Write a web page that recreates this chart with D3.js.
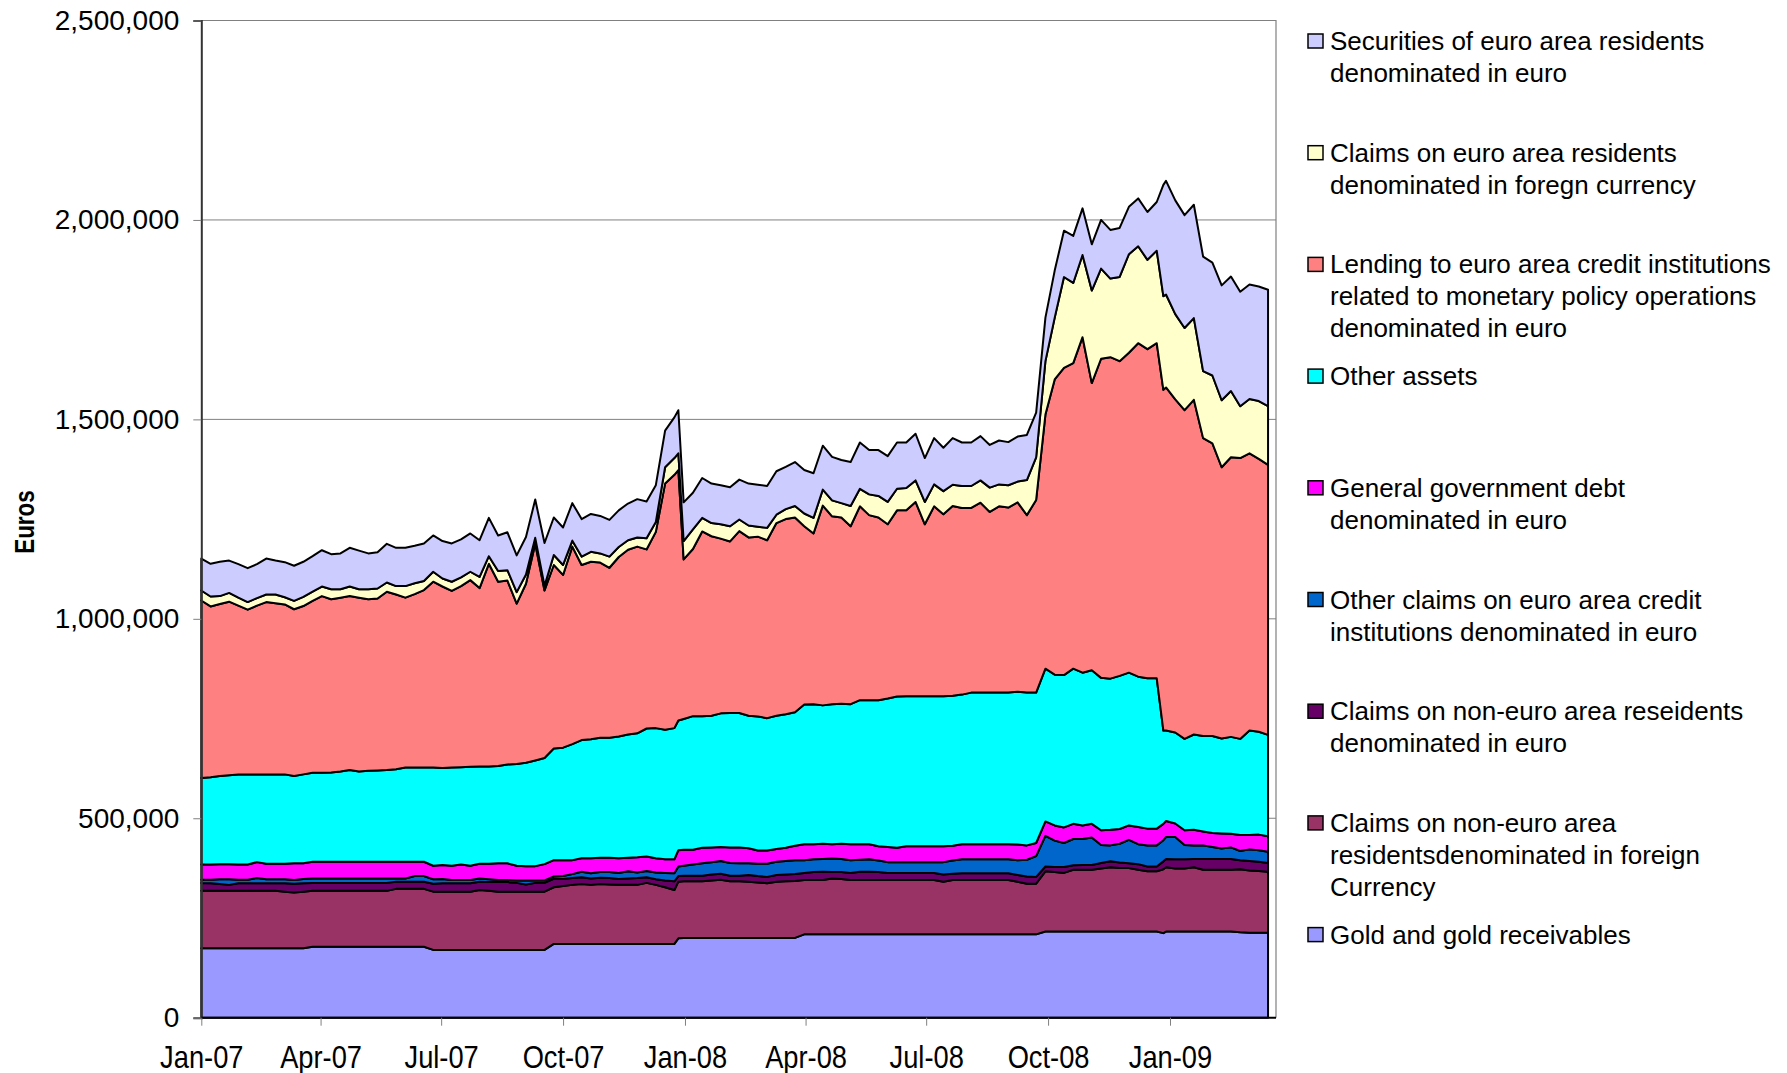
<!DOCTYPE html>
<html>
<head>
<meta charset="utf-8">
<script src="https://cdn.jsdelivr.net/npm/d3@7"></script>
<style>
  html, body { margin: 0; padding: 0; background: #fff; }
  svg { display: block; font-family: "Liberation Sans", Arial, sans-serif; }
</style>
</head>
<body>
<svg id="chart" width="1787" height="1073"></svg>
<script>
// ---------- DATA (thousands of euros) ----------
// Weekly statements (Fridays) from 5 Jan 2007 to 20 Mar 2009, plus two year-end statements
const weekStart = "2007-01-05";
const weekCount = 116;
const yearEndDates = ["2007-12-31", "2008-12-31"];

const gold = [
174,174,174,174,174,174,174,174,174,174,174,174,
178,178,178,178,178,178,178,178,178,178,178,178,178,
170,170,170,170,170,170,170,170,170,170,170,170,170,
185,185,185,185,185,185,185,185,185,185,185,185,185,185,
199,
200,200,200,200,200,200,200,200,200,200,200,200,200,
209,209,209,209,209,209,209,209,209,209,209,209,209,
209,209,209,209,209,209,209,209,209,209,209,209,209,
216,216,216,216,216,216,216,216,216,216,216,216,216,
212,
216,216,216,216,216,216,216,216,214,213,213,213];

const claimsNonEuroForeign = [
144,144,144,144,144,144,144,144,144,142,140,142,
140,140,140,140,140,140,140,140,140,145,145,145,145,
146,146,146,146,146,150,148,146,146,146,146,146,146,
142,145,148,150,148,150,149,148,148,148,153,148,142,135,
142,
142,142,142,144,146,142,142,141,139,137,141,142,143,
136,136,136,140,139,136,136,136,136,136,136,136,136,
136,136,132,136,136,136,136,136,136,136,132,127,127,
151,149,147,155,155,155,158,161,159,159,155,151,151,
160,
161,158,158,161,155,155,155,155,158,156,155,153];

const claimsNonEuroEuro = [
20,19,17,15,19,19,19,19,19,21,22,21,
20,20,20,20,20,20,20,20,20,18,18,18,18,
20,21,21,21,21,21,22,25,24,22,18,22,22,
21,18,17,17,16,16,16,15,16,17,14,14,17,22,
14,
14,14,14,15,15,14,14,17,16,16,17,17,17,
18,20,21,16,17,18,21,21,20,18,18,18,18,
18,18,18,16,17,17,17,17,17,17,17,18,17,
12,13,15,11,12,12,14,15,14,12,14,12,12,
20,
21,23,23,21,27,27,27,27,23,24,23,22];

const otherClaimsCredit = [
8,9,12,14,9,9,13,10,10,10,9,11,
11,11,11,11,11,11,11,11,11,8,8,14,14,
11,11,8,8,8,8,7,4,5,6,10,6,6,
6,7,10,14,13,14,15,15,18,14,16,17,19,20,
24,
25,28,31,31,32,32,31,29,31,33,33,34,35,
32,32,32,34,33,32,30,31,29,27,27,27,27,
27,27,31,33,35,35,35,35,35,35,37,42,52,
77,66,60,66,65,69,45,40,47,59,50,53,53,
53,
55,56,36,34,34,30,26,29,23,29,29,28];

const govDebt = [
38,38,38,38,38,38,40,39,39,39,42,39,
42,42,42,42,42,42,42,42,42,42,42,36,36,
34,35,36,39,36,37,39,42,42,37,36,36,41,
41,40,35,34,38,36,36,37,34,38,36,36,34,35,
41,
40,37,39,37,35,39,40,38,33,33,32,33,36,
40,38,38,36,38,40,39,38,36,38,36,40,40,
40,40,40,37,38,38,38,38,38,38,39,36,33,
36,38,39,38,34,34,37,39,37,36,43,42,42,
41,
40,34,37,39,35,35,38,34,40,36,39,39];

const otherAssets = [
217,219,221,223,226,226,220,224,224,224,219,223,
223,223,224,226,230,226,228,229,230,232,236,236,236,
246,243,246,244,248,244,244,244,248,255,259,265,266,
280,282,291,296,298,301,301,305,309,311,321,326,325,329,
325,
328,335,330,330,335,337,337,332,336,332,334,335,335,
350,351,347,351,351,351,361,361,366,372,379,376,376,
376,376,376,376,375,380,380,380,380,380,383,383,377,
383,378,382,389,383,385,382,379,384,383,377,377,377,
234,
227,228,229,239,239,243,238,243,241,262,258,254];

const lending = [
445,428,431,435,423,413,423,432,429,426,418,422,
431,443,434,436,436,436,430,431,447,438,426,435,445,
466,455,443,454,468,447,508,462,461,402,449,543,420,
460,433,495,439,445,439,426,450,463,468,449,492,617,635,
628,
400,419,463,450,438,430,456,447,451,446,483,489,488,
447,428,501,471,467,446,486,464,458,437,467,466,487,
431,476,456,476,468,463,476,453,467,464,475,445,483,
637,740,770,766,841,720,800,806,789,802,836,825,840,
854,
860,835,824,839,747,734,680,701,704,695,684,677];

const claimsEuroForeign = [
25,25,20,22,20,19,19,19,22,18,21,23,
23,24,25,21,24,21,25,25,23,21,29,27,23,
25,20,23,22,21,28,19,27,26,29,23,15,12,
25,25,15,21,25,23,28,25,24,23,28,25,41,42,
42,
46,49,34,33,36,38,29,30,25,31,21,25,29,
32,39,40,40,36,51,44,52,54,56,54,56,54,
56,55,58,53,55,55,56,61,55,56,52,88,107,
134,155,228,201,206,232,226,197,211,247,243,224,232,
235,
233,214,206,205,168,170,168,166,130,136,145,147];

const securities = [
80,82,86,81,84,85,85,90,85,88,88,88,
89,91,88,90,97,97,90,91,97,96,96,94,94,
91,94,96,95,96,92,96,89,95,92,94,96,107,
94,94,94,94,95,94,92,92,92,96,92,92,92,102,
108,
97,92,100,99,98,98,100,105,105,105,109,106,110,
109,112,110,109,108,110,116,111,115,115,116,114,117,
110,116,109,117,109,109,111,107,110,108,113,113,112,
109,118,116,118,117,116,122,122,123,119,120,120,122,
279,
285,285,283,284,287,283,288,287,287,287,287,292];

// series, bottom of stack first
const seriesKeys = ["gold","claimsNonEuroForeign","claimsNonEuroEuro","otherClaimsCredit",
                    "govDebt","otherAssets","lending","claimsEuroForeign","securities"];
const seriesValues = {gold, claimsNonEuroForeign, claimsNonEuroEuro, otherClaimsCredit,
                      govDebt, otherAssets, lending, claimsEuroForeign, securities};
const seriesColors = ["#9999FF","#993366","#660066","#0066CC","#FF00FF","#00FFFF","#FF8080","#FFFFCC","#CCCCFF"];
const seriesLabels = [
  ["Gold and gold receivables"],
  ["Claims on non-euro area","residentsdenominated in foreign","Currency"],
  ["Claims on non-euro area reseidents","denominated in euro"],
  ["Other claims on euro area credit","institutions denominated in euro"],
  ["General government debt","denominated in euro"],
  ["Other assets"],
  ["Lending to euro area credit institutions","related to monetary policy operations","denominated in euro"],
  ["Claims on euro area residents","denominated in foregn currency"],
  ["Securities of euro area residents","denominated in euro"]
];
const yTicks = [0, 500000, 1000000, 1500000, 2000000, 2500000];
const xTickCount = 9; // quarterly labels Jan-07 .. Jan-09
const yTitle = "Euros";

// ---------- BUILD ----------
(function draw() {
const start = new Date(weekStart + "T00:00:00Z");
const dates = d3.range(weekCount).map(i => d3.utcDay.offset(start, 7 * i))
  .concat(yearEndDates.map(d => new Date(d + "T00:00:00Z")))
  .sort((a, b) => a - b);

const rows = dates.map((d, i) => {
  const r = {date: d};
  seriesKeys.forEach(k => { r[k] = seriesValues[k][i] * 1000; });
  return r;
});

const svg = d3.select("#chart");
const pLeft = 201.3, pRight = 1276, pTop = 20.5, pBottom = 1017.7;

const x = d3.scaleUtc()
  .domain([start, d3.utcDay.offset(start, 811)])
  .range([pLeft, pRight]);
const y = d3.scaleLinear().domain([0, 2500000]).range([pBottom, pTop]);

// gridlines
svg.append("g").selectAll("line").data(yTicks.filter(v => v > 0)).join("line")
  .attr("x1", pLeft).attr("x2", pRight)
  .attr("y1", d => y(d)).attr("y2", d => y(d))
  .attr("stroke", "#808080").attr("stroke-width", 1);

// plot border (top/right)
svg.append("path")
  .attr("d", `M${pLeft},${pTop}H${pRight}V${pBottom}`)
  .attr("fill", "none").attr("stroke", "#808080").attr("stroke-width", 1.2);

// stacked areas
const stack = d3.stack().keys(seriesKeys);
const layers = stack(rows);
const area = d3.area()
  .x(d => x(d.data.date))
  .y0(d => y(d[0]))
  .y1(d => y(d[1]));

svg.append("g").selectAll("path").data(layers).join("path")
  .attr("d", area)
  .attr("fill", (d, i) => seriesColors[i])
  .attr("stroke", "#000")
  .attr("stroke-width", 2)
  .attr("stroke-linejoin", "round");

// y axis
const yAxis = d3.axisLeft(y).tickValues(yTicks).tickFormat(d3.format(",")).tickSize(8).tickPadding(14);
const gy = svg.append("g").attr("transform", `translate(${pLeft},0)`).call(yAxis);
gy.select(".domain").attr("stroke", "#333").attr("stroke-width", 2);
gy.selectAll(".tick line").attr("stroke", "#808080");
gy.selectAll(".tick text").attr("font-size", 28).attr("fill", "#000")
  .attr("font-family", "'Liberation Sans', Arial, sans-serif");

// x axis
const xTickVals = d3.range(xTickCount).map(k => d3.utcMonth.offset(start, 3 * k));
const xAxis = d3.axisBottom(x).tickValues(xTickVals).tickFormat(d3.utcFormat("%b-%y")).tickSize(8).tickPadding(20);
const gx = svg.append("g").attr("transform", `translate(0,${pBottom})`).call(xAxis);
gx.select(".domain").attr("stroke", "#000").attr("stroke-width", 2)
  .attr("d", `M${pLeft},0H${pRight}`);
gx.selectAll(".tick line").attr("stroke", "#808080");
gx.selectAll(".tick text").attr("font-size", 31).attr("fill", "#000")
  .attr("transform", "scale(0.88,1)")
  .attr("font-family", "'Liberation Sans', Arial, sans-serif");

// y title
svg.append("text")
  .attr("transform", "translate(34,522) rotate(-90) scale(0.9,1.1)")
  .attr("text-anchor", "middle")
  .attr("font-size", 25).attr("font-weight", "bold")
  .text(yTitle);

// legend (top entry = top of stack)
const legendOrder = d3.range(seriesKeys.length).reverse();
const lg = svg.append("g");
legendOrder.forEach((si, j) => {
  const cy = 41 + j * 111.7;
  lg.append("rect")
    .attr("x", 1308).attr("y", cy - 7).attr("width", 15).attr("height", 14)
    .attr("fill", seriesColors[si]).attr("stroke", "#000").attr("stroke-width", 1.5);
  const t = lg.append("text").attr("font-size", 26).attr("fill", "#000");
  seriesLabels[si].forEach((line, k) => {
    t.append("tspan").attr("x", 1330).attr("y", cy + k * 32 + 9).text(line);
  });
});
})();
</script>
</body>
</html>
